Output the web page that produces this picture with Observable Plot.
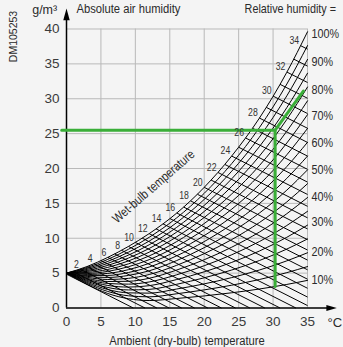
<!DOCTYPE html>
<html><head><meta charset="utf-8">
<script src="https://cdn.jsdelivr.net/npm/d3@7"></script>
<script src="https://cdn.jsdelivr.net/npm/@observablehq/plot@0.6"></script>
<style>
html,body{margin:0;padding:0;background:#f4f4f4;}
#chart svg{display:block;}
</style></head><body><div id="chart"></div>
<script>
// ---- axes / ticks ----
const xTicks = [0, 5, 10, 15, 20, 25, 30, 35];
const yTicks = [0, 5, 10, 15, 20, 25, 30, 35, 40];
const gridXValues = [5, 10, 15, 20, 25, 30, 35];
const gridYValues = [5, 10, 15, 20, 25, 30, 35, 40];
const axisYTop = [42.1];   // arrow head centre on y axis
const axisXEnd = [38.5];   // arrow head centre on x axis

// ---- relative humidity curves (g/m3 read at sample temperatures) ----
const rhX = [0, 3, 6, 9, 12, 16, 20, 24, 28, 32, 35];
const rh100 = [5.0, 5.95, 7.26, 8.83, 10.66, 13.6, 17.3, 21.8, 27.2, 33.8, 39.6];
const rh95 = [5.0, 5.81, 6.97, 8.42, 10.13, 12.92, 16.44, 20.71, 25.84, 32.11, 37.62];
const rh90 = [5.0, 5.67, 6.68, 8.0, 9.59, 12.24, 15.57, 19.62, 24.48, 30.42, 35.64];
const rh85 = [5.0, 5.53, 6.40, 7.58, 9.06, 11.56, 14.71, 18.53, 23.12, 28.73, 33.66];
const rh80 = [5.0, 5.38, 6.11, 7.16, 8.53, 10.88, 13.84, 17.44, 21.76, 27.04, 31.68];
const rh75 = [5.0, 5.24, 5.82, 6.75, 8.0, 10.2, 12.98, 16.35, 20.4, 25.35, 29.7];
const rh70 = [5.0, 5.10, 5.53, 6.33, 7.46, 9.52, 12.11, 15.26, 19.04, 23.66, 27.72];
const rh65 = [5.0, 4.96, 5.25, 5.92, 6.93, 8.84, 11.25, 14.17, 17.68, 21.97, 25.74];
const rh60 = [5.0, 4.81, 4.96, 5.50, 6.40, 8.16, 10.38, 13.08, 16.32, 20.28, 23.76];
const rh55 = [5.0, 4.67, 4.67, 5.09, 5.87, 7.48, 9.52, 11.99, 14.96, 18.59, 21.78];
const rh50 = [5.0, 4.53, 4.38, 4.67, 5.33, 6.80, 8.65, 10.90, 13.60, 16.90, 19.80];
const rh45 = [5.0, 4.39, 4.09, 4.25, 4.80, 6.12, 7.79, 9.81, 12.24, 15.21, 17.82];
const rh40 = [5.0, 4.24, 3.80, 3.83, 4.26, 5.44, 6.92, 8.72, 10.88, 13.52, 15.84];
const rh35 = [5.0, 4.10, 3.52, 3.42, 3.73, 4.76, 6.06, 7.63, 9.52, 11.83, 13.86];
const rh30 = [5.0, 3.96, 3.23, 3.00, 3.20, 4.08, 5.19, 6.54, 8.16, 10.14, 11.88];
const rh25 = [5.0, 3.82, 2.94, 2.59, 2.67, 3.40, 4.33, 5.45, 6.80, 8.45, 9.90];
const rh20 = [5.0, 3.67, 2.65, 2.17, 2.13, 2.72, 3.46, 4.36, 5.44, 6.76, 7.92];
const rh15 = [5.0, 3.53, 2.37, 1.75, 1.60, 2.04, 2.60, 3.27, 4.08, 5.07, 5.94];
const rh10 = [5.0, 3.39, 2.08, 1.33, 1.07, 1.36, 1.73, 2.18, 2.72, 3.38, 3.96];
const rhCurveNames = ["100","95","90","85","80","75","70","65","60","55","50","45","40","35","30","25","20","15","10"];
const rhLabels = ["100%", "90%", "80%", "70%", "60%", "50%", "40%", "30%", "20%", "10%"];
const rhLabelY = [39.36, 35.34, 31.28, 27.5, 23.66, 19.86, 16.0, 12.3, 8.1, 4.09];

// ---- wet-bulb lines (start on saturation curve, end on frame) ----
const wbTemp = [0,1,2,3,4,5,6,7,8,9,10,11,12,13,14,15,16,17,18,19,20,21,22,23,24,25,26,27,28,29,30,31,32,33,34];
const wbSat  = [4.85,5.20,5.56,5.95,6.36,6.80,7.26,7.75,8.27,8.82,9.40,10.01,10.66,11.35,12.07,12.83,13.63,14.48,15.37,16.31,17.30,18.34,19.43,20.58,21.78,23.05,24.38,25.78,27.24,28.77,30.38,32.07,33.83,35.68,37.61];
const wbEndX = [9.7,11.4,13.12,14.9,16.72,18.6,20.52,22.5,24.54,26.64,28.8,31.02,33.32,35,35,35,35,35,35,35,35,35,35,35,35,35,35,35,35,35,35,35,35,35,35];
const wbEndY = [0,0,0,0,0,0,0,0,0,0,0,0,0,0.35,1.57,2.83,4.13,5.48,6.87,8.31,9.8,11.34,12.93,14.58,16.28,18.05,19.88,21.78,23.74,25.77,27.88,30.07,32.33,34.68,37.11];
const wbLabels = ["2","4","6","8","10","12","14","16","18","20","22","24","26","28","30","32","34"];
const wbLabelT = [2,4,6,8,10,12,14,16,18,20,22,24,26,28,30,32,34];
const wbLabelSat = [5.56,6.36,7.26,8.27,9.40,10.66,12.07,13.63,15.37,17.30,19.43,21.78,24.38,27.24,30.38,33.83,37.61];

// ---- green example path ----
const greenX = [-0.7, 30.3, 30.3, 30.3, 34.4];
const greenY = [25.5, 25.5, 3.1, 25.5, 31.1];
const greenSeg = ["a", "a", "a", "b", "b"];

const rhCurves = [rh100, rh95, rh90, rh85, rh80, rh75, rh70, rh65, rh60, rh55, rh50, rh45, rh40, rh35, rh30, rh25, rh20, rh15, rh10];
const rhData = rhCurveNames.flatMap((lvl, k) => rhX.map((x, i) => ({lvl, x, y: rhCurves[k][i]})));
const greenData = greenX.map((x, i) => ({x, y: greenY[i], s: greenSeg[i]}));

const arrowSymbol = {
  draw(ctx, size) {
    const r = Math.sqrt(size / Math.PI);
    ctx.moveTo(0, -r);
    ctx.lineTo(r * 0.56, r);
    ctx.lineTo(-r * 0.56, r);
    ctx.closePath();
  }
};

const font = "'Liberation Sans', Arial, Helvetica, sans-serif";
const ink = "#2a2a2a";
const mid = {textAnchor: "middle", lineAnchor: "middle", fontFamily: font};

const chart = Plot.plot({
  width: 343, height: 347,
  marginLeft: 66, marginRight: 36, marginTop: 28.5, marginBottom: 39.5,
  x: {domain: [0, 35]},
  y: {domain: [0, 40]},
  style: {background: "#f4f4f4", fontFamily: font, overflow: "visible"},
  marks: [
    Plot.gridX(gridXValues, {stroke: "#b9b9b9", strokeOpacity: 1, strokeWidth: 1}),
    Plot.gridY(gridYValues, {stroke: "#b9b9b9", strokeOpacity: 1, strokeWidth: 1}),
    Plot.link(wbTemp, {x1: wbTemp, y1: wbSat, x2: wbEndX, y2: wbEndY, stroke: "#000", strokeWidth: 1}),
    Plot.line(rhData, {x: "x", y: "y", z: "lvl", curve: "monotone-x", stroke: "#000", strokeWidth: 1}),
    Plot.ruleX([0], {y1: 0, y2: axisYTop[0], stroke: "#000", strokeWidth: 1.5}),
    Plot.ruleY([0], {x1: 0, x2: axisXEnd[0], stroke: "#000", strokeWidth: 1.5}),
    Plot.dot(axisYTop, {x: 0, y: d => d, symbol: arrowSymbol, r: 5.8, fill: "#000", stroke: "none"}),
    Plot.dot(axisXEnd, {x: d => d, y: 0, symbol: arrowSymbol, r: 5.2, rotate: 90, fill: "#000", stroke: "none"}),
    Plot.line(greenData, {x: "x", y: "y", z: "s", stroke: "#3aae38", strokeWidth: 3, strokeLinejoin: "miter"}),
    Plot.axisY(yTicks, {anchor: "left", tickSize: 0, tickPadding: 7, fontSize: 13.5, color: "#3a3a3a", label: null, fontFamily: font}),
    Plot.axisX(xTicks, {anchor: "bottom", tickSize: 0, tickPadding: 8, fontSize: 13.5, color: "#3a3a3a", label: null, fontFamily: font}),
    Plot.text(rhLabels, {x: 35, y: rhLabelY, text: d => d, textAnchor: "start", lineAnchor: "middle", dx: 4, fontSize: 13, fill: ink, fontFamily: font}),
    Plot.text(wbLabels, {x: wbLabelT, y: wbLabelSat, text: d => d, textAnchor: "end", lineAnchor: "middle", dx: -1.5, dy: -5, fontSize: 10.5, fill: "#333", fontFamily: font}),
    Plot.text(["Wet-bulb temperature"], {...mid, frameAnchor: "top-left", dx: 87, dy: 157.5, rotate: -41, fontSize: 13, fill: ink}),
    Plot.text(["Absolute air humidity"], {...mid, textAnchor: "start", frameAnchor: "top-left", dx: 10, dy: -20, fontSize: 13.5, fill: ink}),
    Plot.text(["Relative humidity ="], {...mid, textAnchor: "end", frameAnchor: "top-right", dx: 28.5, dy: -20, fontSize: 13, fill: ink}),
    Plot.text(["g/m³"], {...mid, textAnchor: "end", frameAnchor: "top-left", dx: -9.3, dy: -19, fontSize: 12.5, fill: ink}),
    Plot.text(["DM105253"], {...mid, frameAnchor: "top-left", dx: -52.5, dy: 7.5, rotate: -90, fontSize: 10.5, fill: ink}),
    Plot.text(["°C"], {...mid, textAnchor: "start", frameAnchor: "bottom-right", dx: 20, dy: 14.5, fontSize: 13, fill: ink}),
    Plot.text(["Ambient (dry-bulb) temperature"], {...mid, frameAnchor: "bottom", dy: 32.5, fontSize: 13.5, fill: ink})
  ]
});
document.getElementById("chart").appendChild(chart);

// condensed lettering like the original (narrow sans)
const keepWide = new Set(["g/m³", "DM105253", "°C"]);
const squeeze = 0.83;
chart.querySelectorAll('g[aria-label="text"] text').forEach(t => {
  if (keepWide.has(t.textContent)) return;
  const tr = t.getAttribute("transform") || "";
  if (/translate/.test(tr)) {
    // positioned by transform: scale horizontally about the anchor point
    t.setAttribute("transform", `${tr} scale(${squeeze},1)`);
  } else {
    const w = t.getComputedTextLength();
    t.setAttribute("textLength", (w * squeeze).toFixed(2));
    t.setAttribute("lengthAdjust", "spacingAndGlyphs");
  }
});
</script>
</body></html>
